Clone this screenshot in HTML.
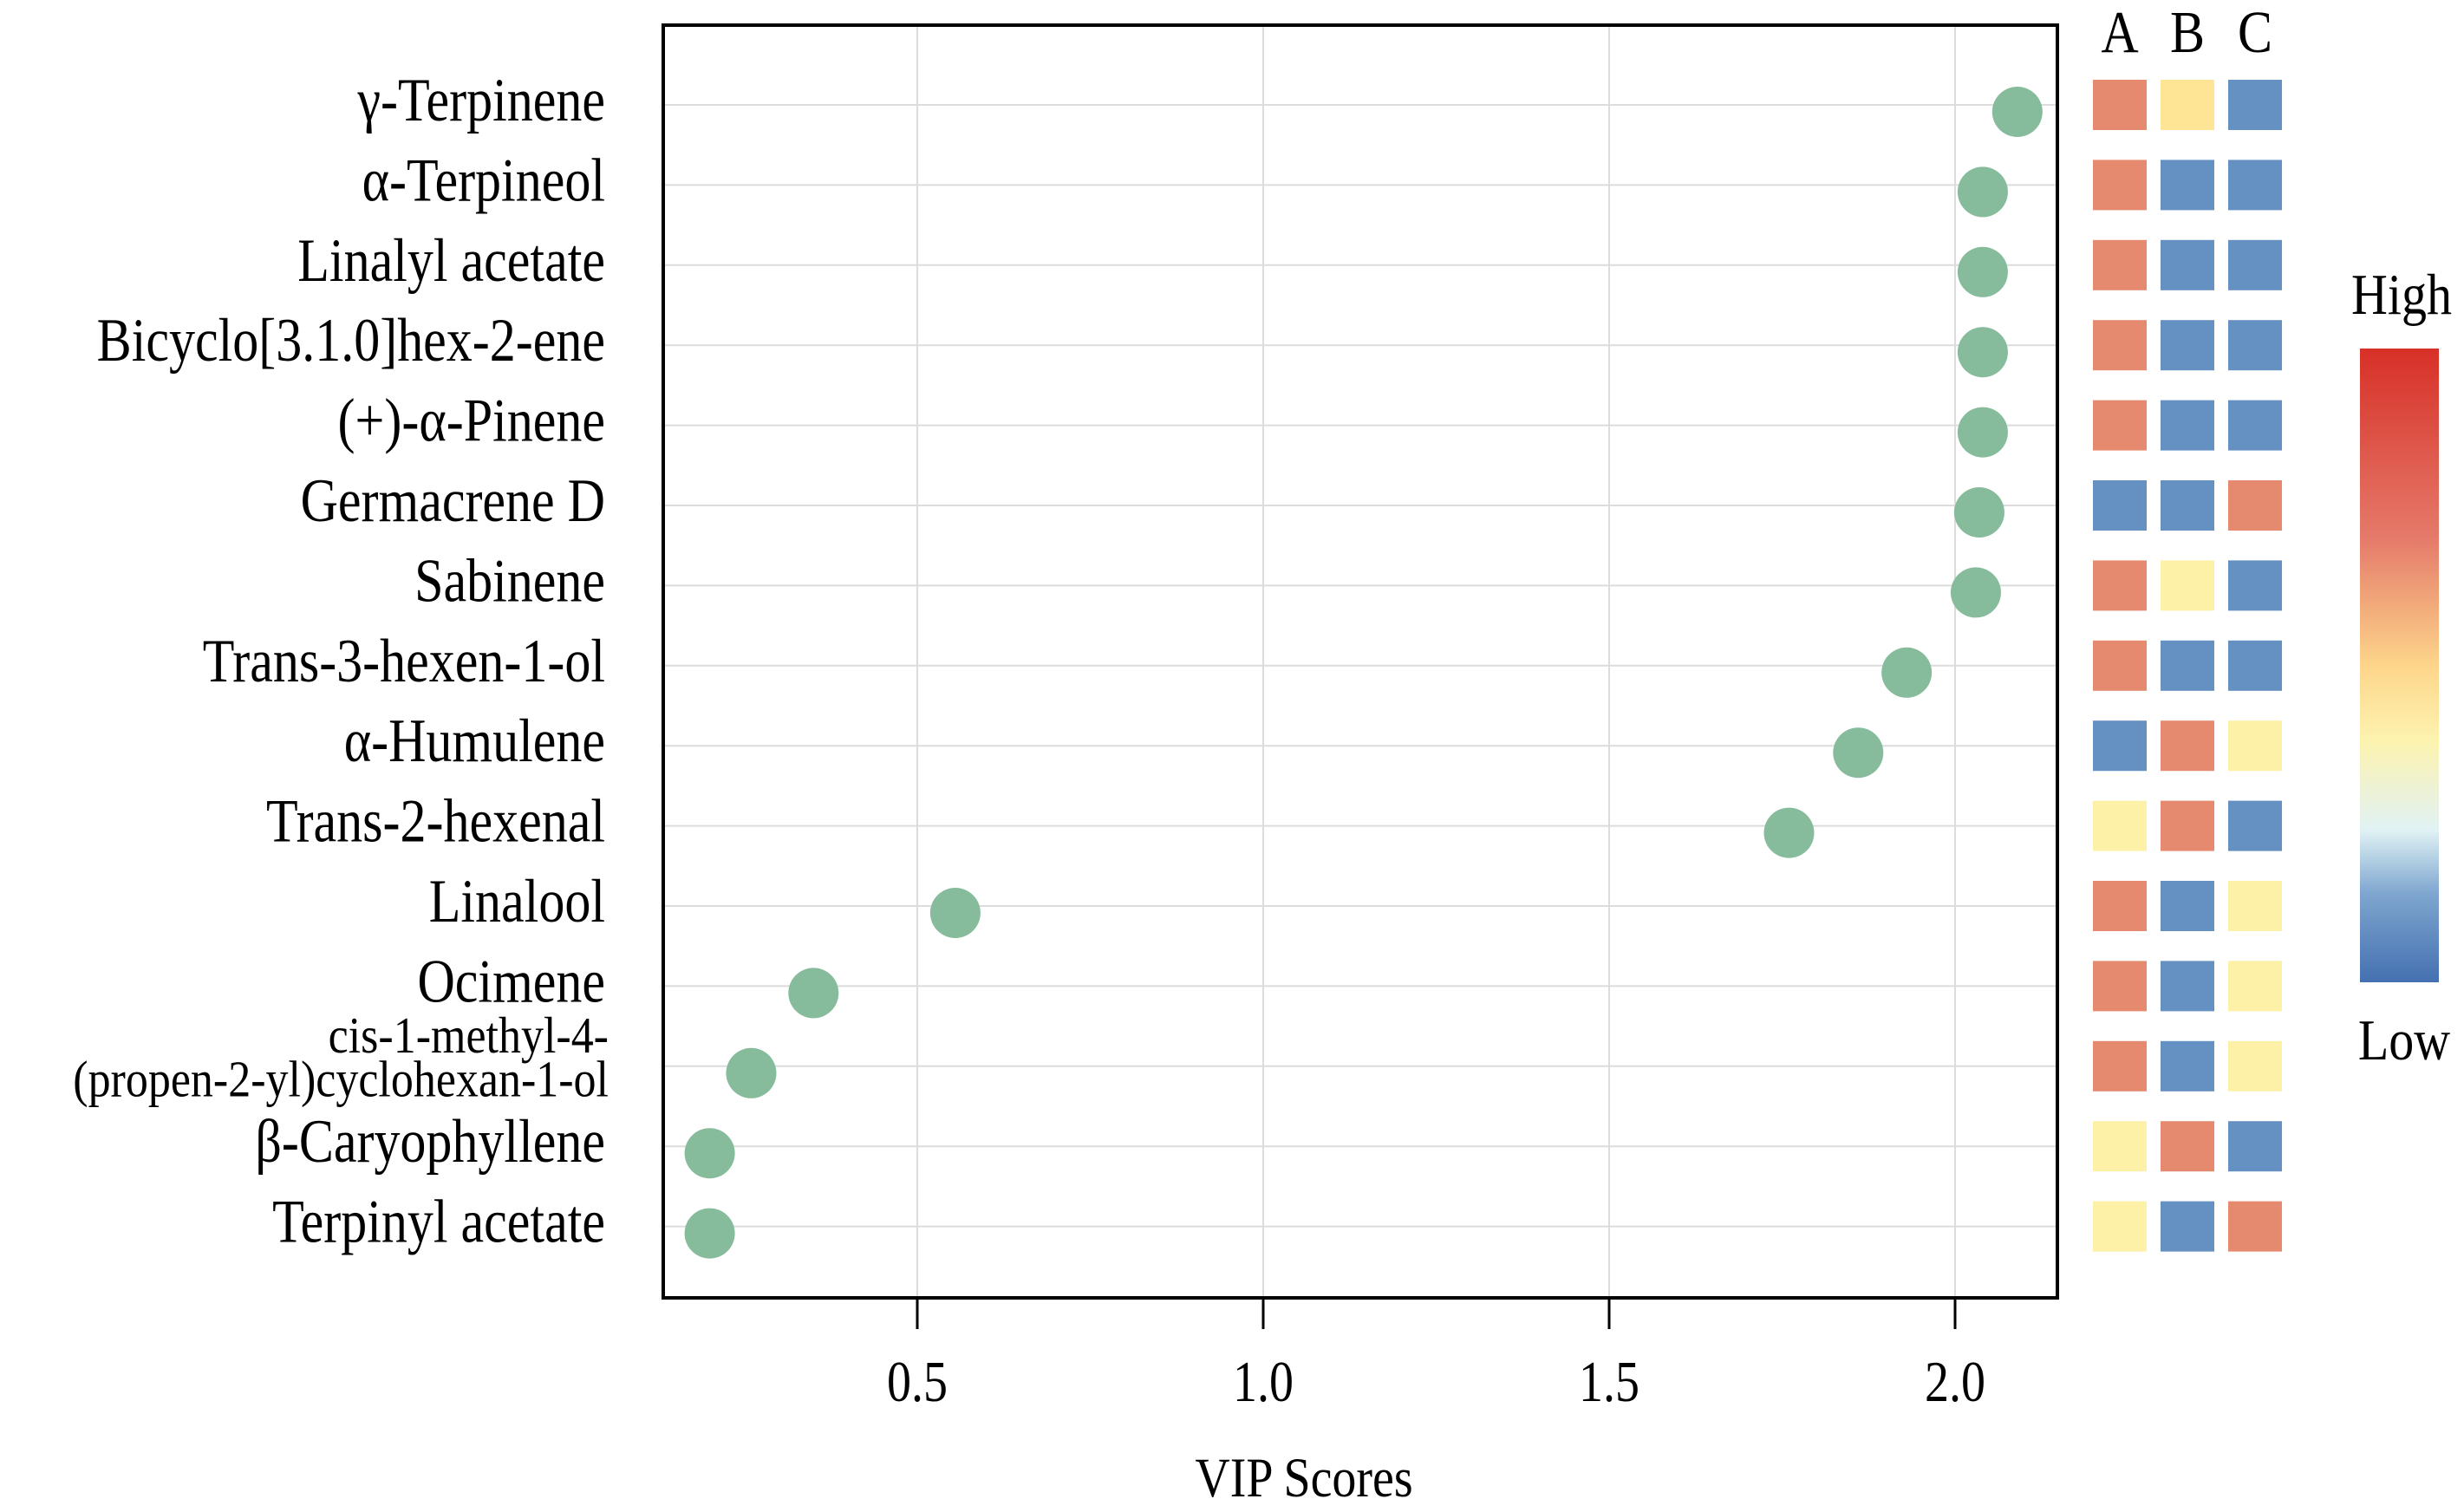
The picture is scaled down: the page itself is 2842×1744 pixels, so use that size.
<!DOCTYPE html>
<html><head><meta charset="utf-8"><style>
html,body{margin:0;padding:0;background:#fff;}
svg{display:block;font-family:"Liberation Serif",serif;}
</style></head><body>
<svg id="chart" width="2842" height="1744" viewBox="0 0 2842 1744">
<defs>
<linearGradient id="cbar" x1="0" y1="0" x2="0" y2="1">
<stop offset="0" stop-color="#d73027"/>
<stop offset="0.3" stop-color="#e57a6a"/>
<stop offset="0.5" stop-color="#fdd58a"/>
<stop offset="0.62" stop-color="#fdf3b0"/>
<stop offset="0.76" stop-color="#e0f2f4"/>
<stop offset="0.86" stop-color="#7ea6cf"/>
<stop offset="1" stop-color="#4470b0"/>
</linearGradient>
</defs>
<g id="grid"></g>
<g id="marks"></g>
<rect x="765" y="29" width="1608" height="1468" fill="none" stroke="#000" stroke-width="4"/>
<g id="xaxis"></g>
<g id="ylabels"></g>
<g id="heat"></g>
<text transform="translate(1504,1726) scale(1,1.15)" font-size="56" text-anchor="middle">VIP Scores</text>
<rect x="2722" y="402" width="91" height="731" fill="url(#cbar)"/>
<text transform="translate(2770,362) scale(1,1.15)" font-size="58" text-anchor="middle">High</text>
<text transform="translate(2773,1222) scale(1,1.15)" font-size="58" text-anchor="middle">Low</text>
</svg>
<script>
const compounds=["γ-Terpinene","α-Terpineol","Linalyl acetate","Bicyclo[3.1.0]hex-2-ene","(+)-α-Pinene","Germacrene D","Sabinene","Trans-3-hexen-1-ol","α-Humulene","Trans-2-hexenal","Linalool","Ocimene","cis-1-methyl-4-|(propen-2-yl)cyclohexan-1-ol","β-Caryophyllene","Terpinyl acetate"];
const vip=[2.09,2.04,2.04,2.04,2.04,2.035,2.03,1.93,1.86,1.76,0.555,0.35,0.26,0.20,0.20];
const xTicks=[0.5,1.0,1.5,2.0];
const xTickLabels=["0.5","1.0","1.5","2.0"];
const groups=["A","B","C"];
const heatA=[0.8,0.8,0.8,0.8,0.8,0.1,0.8,0.8,0.1,0.6,0.8,0.8,0.8,0.6,0.6];
const heatB=[0.5,0.1,0.1,0.1,0.1,0.1,0.6,0.1,0.8,0.8,0.1,0.1,0.1,0.8,0.1];
const heatC=[0.1,0.1,0.1,0.1,0.1,0.8,0.1,0.1,0.6,0.1,0.6,0.6,0.6,0.1,0.8];

const NS="http://www.w3.org/2000/svg";
const X0=765,X1=2373,Y0=29,Y1=1497;
function xs(v){return 1058+(v-0.5)*798;}
function ys(i){return 121+i*92.4;}
function color(v){if(v<0.3)return "#6591c2";if(v<0.55)return "#fde595";if(v<0.7)return "#fdf1a8";return "#e58a6f";}
function mk(tag,attrs,parent){const e=document.createElementNS(NS,tag);for(const k in attrs)e.setAttribute(k,attrs[k]);parent.appendChild(e);return e;}

const grid=document.getElementById('grid'),marks=document.getElementById('marks'),xa=document.getElementById('xaxis'),yl=document.getElementById('ylabels'),heat=document.getElementById('heat');
xTicks.forEach((t,i)=>{
  const g=mk('line',{x1:xs(t),x2:xs(t),y1:Y0,y2:Y1,stroke:"#dcdcdc","stroke-width":2},grid);
  
  
  const tk=mk('line',{x1:xs(t),x2:xs(t),y1:Y1,y2:Y1+36,stroke:"#000","stroke-width":3},xa);
  
  
  const tl=mk('text',{transform:"translate("+xs(t)+",1616) scale(1,1.2)","font-size":56,"text-anchor":"middle"},xa);
  tl.textContent=xTickLabels[i];
  
  
});
compounds.forEach((c,i)=>{
  const y=ys(i);
  const gl=mk('line',{x1:X0,x2:X1,y1:y,y2:y,stroke:"#dcdcdc","stroke-width":2},grid);
  
  
  const d=mk('circle',{cx:xs(vip[i]),cy:y+8,r:29,fill:"#86bb9c"},marks);
  
  
  const parts=c.split('|');
  const multi=parts.length>1;
  const t=mk('text',{"font-size":multi?52:60,"text-anchor":"end"},yl);
  
  
  if(multi){
    t.setAttribute('transform','translate(702,'+(y-16)+') scale(1,1.15)');
    parts.forEach((p,j)=>{const ts=mk('tspan',{x:0,dy:j?44:0},t);ts.textContent=p;});
  } else {t.setAttribute('transform','translate(698,'+(y+18)+') scale(1,1.18)');t.textContent=c;}
  [heatA,heatB,heatC].forEach((arr,k)=>{
    const r=mk('rect',{x:2445+k*78-31,y:y-29,width:62,height:58,fill:color(arr[i])},heat);
    
    
  });
});
groups.forEach((g,k)=>{
  const t=mk('text',{transform:"translate("+(2445+k*78)+",60) scale(1,1.15)","font-size":60,"text-anchor":"middle"},heat);
  t.textContent=g;
  
  
});
</script>
</body></html>
